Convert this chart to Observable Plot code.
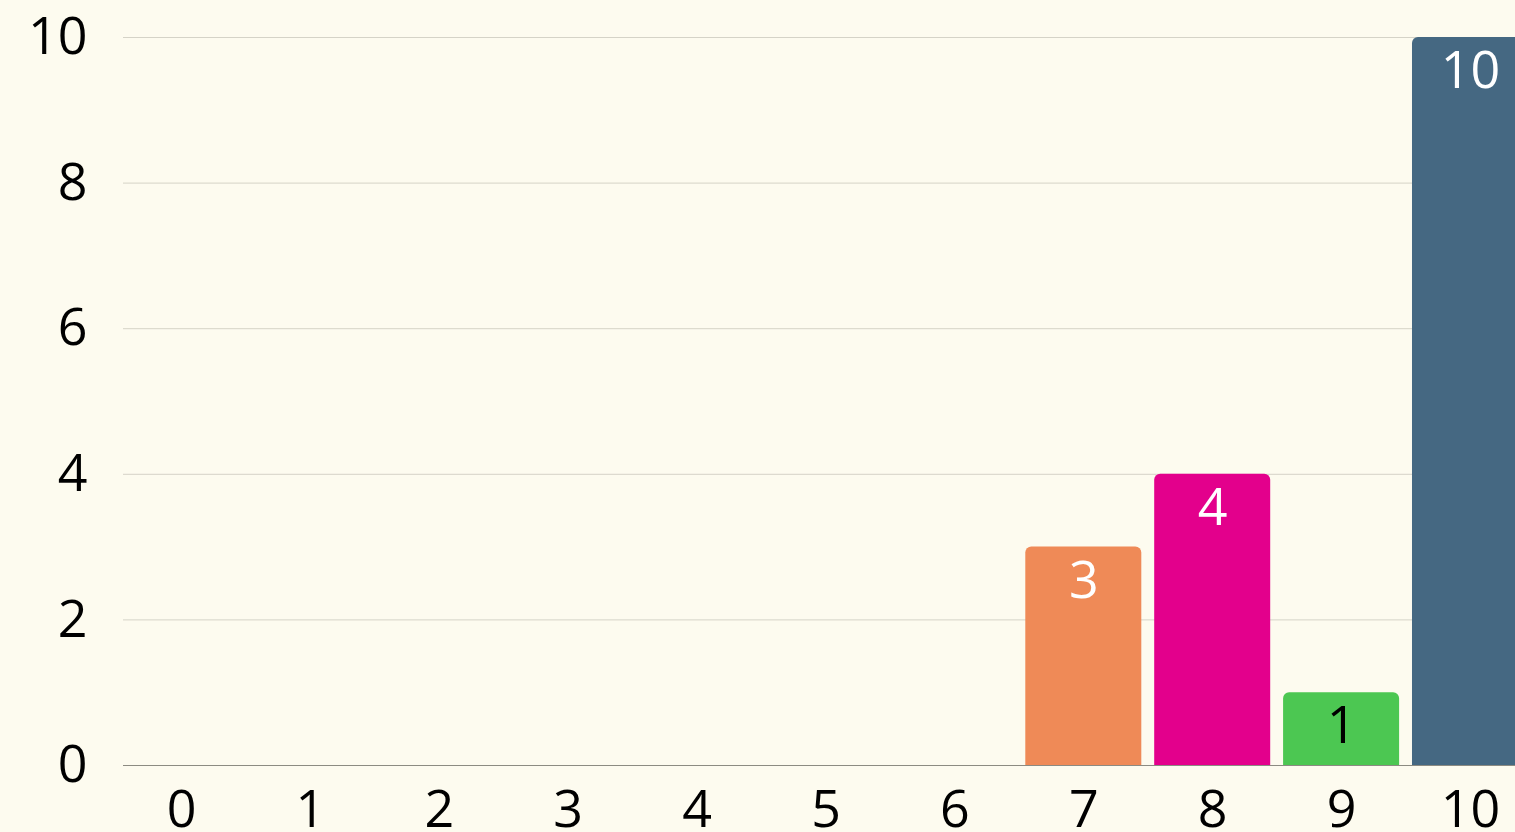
<!DOCTYPE html>
<html>
<head>
<meta charset="utf-8">
<script src="https://cdn.jsdelivr.net/npm/d3@7"></script>
<script src="https://cdn.jsdelivr.net/npm/@observablehq/plot@0.6"></script>
<style>
  html, body { margin: 0; padding: 0; background: #fdfbef; overflow: hidden; }
  #chart { width: 1515px; height: 832px; overflow: hidden; }
  #chart svg { display: block; max-width: none !important; }
</style>
</head>
<body>
<div id="chart"></div>
<script>
const categories = [0, 1, 2, 3, 4, 5, 6, 7, 8, 9, 10];
const values = [0, 0, 0, 0, 0, 0, 0, 3, 4, 1, 10];
const barColors = ["#ef8a57", "#ef8a57", "#ef8a57", "#ef8a57", "#ef8a57", "#ef8a57", "#ef8a57", "#ef8a57", "#e3008c", "#4cc752", "#456882"];
const labelColors = ["white", "white", "white", "white", "white", "white", "white", "white", "white", "black", "white"];
const yTicks = [0, 2, 4, 6, 8, 10];

const data = categories.map((c, i) => ({cat: c, value: values[i], color: barColors[i], lc: labelColors[i]}));
const nonZero = data.filter(d => d.value > 0);

const chart = Plot.plot({
  width: 1528,
  height: 832,
  marginLeft: 123,
  marginRight: 0,
  marginTop: 37,
  marginBottom: 67,
  style: {background: "#fdfbef", fontFamily: "'Open Sans', sans-serif", fontSize: "52px", color: "black", maxWidth: "none"},
  x: {domain: categories, paddingInner: 0.1, paddingOuter: 0, round: false, label: null, tickSize: 0, tickPadding: 25},
  y: {domain: [0, 10], ticks: yTicks, label: null, tickSize: 0, tickPadding: 36},
  marks: [
    Plot.gridY(yTicks.filter(t => t > 0), {stroke: "#d5d3c7", strokeOpacity: 1, strokeWidth: 1}),
    Plot.barY(nonZero, {x: "cat", y: "value", fill: "color", ry1: 6}),
    Plot.ruleY([0], {stroke: "#8c8b82", strokeWidth: 1}),
    Plot.text(nonZero, {x: "cat", y: "value", text: d => String(d.value), fill: "lc", dy: 34, fontSize: 52})
  ]
});
document.getElementById("chart").appendChild(chart);
</script>
</body>
</html>
